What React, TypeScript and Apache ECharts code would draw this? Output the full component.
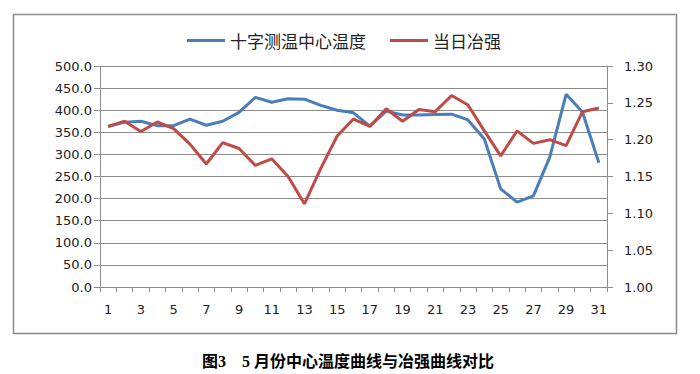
import React, { useEffect, useRef } from "react";
import * as echarts from "echarts";

const days = Array.from({ length: 31 }, (_, i) => String(i + 1));
const centerTemp = [363, 373, 375, 365, 365, 380, 366, 375, 395, 429, 418, 426, 425, 411, 400, 394, 364, 398, 389, 389, 390, 391, 378, 335, 222, 192, 206, 294, 436, 396, 281];
const smeltIntensity = [1.218, 1.225, 1.211, 1.224, 1.215, 1.194, 1.167, 1.196, 1.188, 1.165, 1.174, 1.15, 1.113, 1.161, 1.205, 1.228, 1.218, 1.242, 1.225, 1.241, 1.238, 1.26, 1.247, 1.212, 1.178, 1.212, 1.195, 1.2, 1.192, 1.238, 1.243];
const seriesNames = ["十字测温中心温度", "当日冶强"];
const caption = "图3    5 月份中心温度曲线与冶强曲线对比";

export default function App() {
  const ref = useRef<HTMLDivElement>(null);
  useEffect(() => {
    if (!ref.current) return;
    const chart = echarts.init(ref.current, null, { renderer: "svg" });
    const gridColor = "#8c8c8c";
    const labelStyle = { color: "#222", fontFamily: "DejaVu Sans", fontSize: 13 };
    chart.setOption({
      animation: false,
      backgroundColor: "#fff",
      graphic: [
        {
          type: "rect",
          shape: { x: 13.5, y: 14.5, width: 663, height: 319 },
          style: { fill: "none", stroke: "#8c8c8c", lineWidth: 1.5 },
          silent: true,
        },
        {
          type: "text",
          x: 348,
          y: 361,
          style: {
            text: caption,
            fill: "#000",
            font: "bold 16px 'Liberation Serif', 'Noto Sans CJK SC', serif",
            textAlign: "center",
            textVerticalAlign: "middle",
          },
        },
      ],
      legend: {
        top: 27,
        left: 182,
        icon: "rect",
        itemWidth: 38,
        itemHeight: 3,
        itemGap: 24,
        textStyle: { color: "#222", fontSize: 17, fontFamily: "'Noto Sans CJK SC', sans-serif" },
        data: seriesNames,
      },
      grid: { left: 100, right: 93, top: 66, bottom: 87 },
      xAxis: {
        type: "category",
        data: days,
        boundaryGap: true,
        axisLine: { lineStyle: { color: gridColor } },
        axisTick: { show: true, interval: 0, length: 5, lineStyle: { color: gridColor } },
        axisLabel: { ...labelStyle, interval: 1, margin: 16 },
      },
      yAxis: [
        {
          type: "value",
          min: 0,
          max: 500,
          interval: 50,
          axisLine: { show: true, lineStyle: { color: gridColor } },
          axisTick: { show: true, length: 6, lineStyle: { color: gridColor } },
          splitLine: { show: true, lineStyle: { color: gridColor, width: 1 } },
          axisLabel: { ...labelStyle, margin: 8, formatter: (v: number) => v.toFixed(1) },
        },
        {
          type: "value",
          min: 1.0,
          max: 1.3,
          interval: 0.05,
          position: "right",
          axisLine: { show: true, lineStyle: { color: gridColor } },
          axisTick: { show: true, length: 6, lineStyle: { color: gridColor } },
          splitLine: { show: false },
          axisLabel: { ...labelStyle, margin: 17, formatter: (v: number) => v.toFixed(2) },
        },
      ],
      series: [
        {
          name: seriesNames[0],
          type: "line",
          yAxisIndex: 0,
          data: centerTemp,
          showSymbol: false,
          symbol: "none",
          lineStyle: { color: "#4a7ebb", width: 3 },
          itemStyle: { color: "#4a7ebb" },
        },
        {
          name: seriesNames[1],
          type: "line",
          yAxisIndex: 1,
          data: smeltIntensity,
          showSymbol: false,
          symbol: "none",
          lineStyle: { color: "#be4b48", width: 3 },
          itemStyle: { color: "#be4b48" },
        },
      ],
    });
    return () => chart.dispose();
  }, []);
  return <div ref={ref} style={{ position: "absolute", left: 0, top: 0, width: 700, height: 374 }} />;
}
